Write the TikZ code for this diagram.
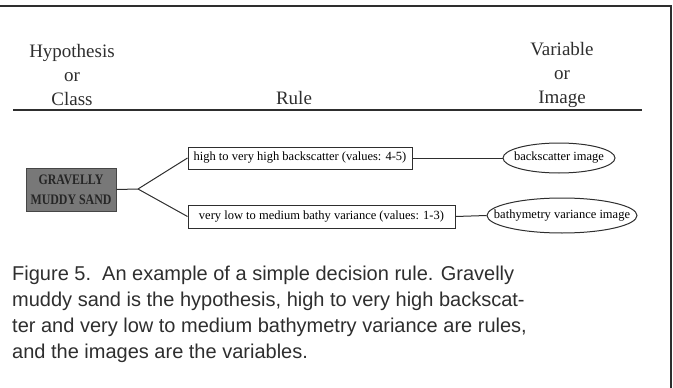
\documentclass[tikz,border=0pt]{standalone}
\usepackage{fontspec}
\setmainfont{Liberation Serif}
\newfontfamily\captionfont{Liberation Sans}
\newfontfamily\classfont[FakeStretch=0.82]{Liberation Serif}
\usetikzlibrary{positioning,shapes.geometric}
\definecolor{inkgray}{HTML}{2E2E2E}
\definecolor{classgray}{HTML}{787878}
\tikzset{
    % Les titres de colonnes (Times)
    header_text/.style={
        font=\fontsize{19}{24}\selectfont,
        align=center,
        text=inkgray,
        inner sep=0pt
    },
    % La classe (hypothese) : boite grise
    class_box/.style={
        draw=gray!55!black,
        fill=classgray,
        line width=1pt,
        minimum width=90pt,
        minimum height=43pt,
        align=center,
        font=\classfont\bfseries\fontsize{14.5}{20}\selectfont,
        text=black!85
    },
    % Les regles
    rule_box/.style={
        draw=inkgray,
        line width=1pt,
        minimum height=22pt,
        inner sep=1pt,
        font=\fontsize{12.5}{14}\selectfont
    },
    % Les images (variables) : le texte est pose par-dessus
    image_ellipse/.style={
        ellipse,
        draw=inkgray,
        line width=1pt,
        inner sep=0pt,
        label={[font=\fontsize{12.5}{14}\selectfont, inner sep=0pt]center:#1}
    },
    link/.style={draw=inkgray, line width=1pt}
}

\begin{document}
\begin{tikzpicture}[x=1pt,y=-1pt]
        \useasboundingbox (0,0) rectangle (673,388);

        % --- 1. Cadre et en-tetes ---
        \draw[line width=2pt, inkgray] (0,6) -- (671,6) -- (671,388);

        \node[header_text] (hyp) at (72,75) {Hypothesis\\or\\Class};
        \node[header_text, anchor=base] (rule) at (294,104) {Rule};
        \node[header_text] (var) at (562,75) {Variable\\or\\Image};
        \draw[line width=2pt, inkgray] (13,110) -- (642,110);

        % --- 2. Arbre de decision ---
        \node[class_box] (sand) at (71,189.5) {GRAVELLY\\MUDDY SAND};
        \coordinate (split) at (138,189);

        \node[rule_box, minimum width=224pt] (ruleA) at (300,158)
            {high to very high backscatter (values: 4-5)};
        \node[rule_box, minimum width=267pt, minimum height=23pt] (ruleB) at (321.5,216.5)
            {very low to medium bathy variance (values: 1-3)};

        \node[image_ellipse={backscatter image}, minimum width=112pt, minimum height=30pt]
            (imgA) at (559,158) {};
        \node[image_ellipse={bathymetry variance image}, minimum width=150pt, minimum height=35pt]
            (imgB) at (562,215.5) {};

        \draw[link] (sand.east) -- (split) -- (ruleA.west);
        \draw[link] (split) -- (ruleB.west);
        \draw[link] (ruleA.east) -- (imgA.west);
        \draw[link] (ruleB.east) -- (imgB.west);

        % --- 3. Legende ---
        \node[anchor=north west, align=left, inner sep=0pt, text=inkgray,
              font=\captionfont\fontsize{20}{26}\selectfont] (caption) at (12,265.5)
            {Figure 5.\ \ An example of a simple decision rule. Gravelly\\
             muddy sand is the hypothesis, high to very high backscat-\\
             ter and very low to medium bathymetry variance are rules,\\
             and the images are the variables.};
\end{tikzpicture}
\end{document}
